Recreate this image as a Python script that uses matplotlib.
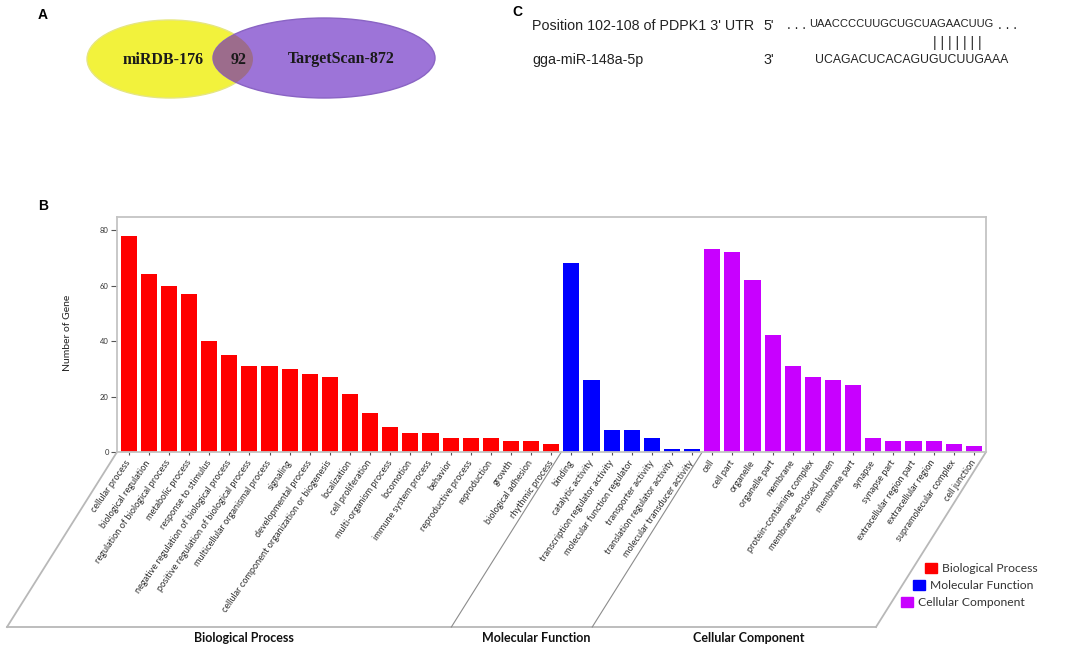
import numpy as np
import matplotlib
matplotlib.use('Agg')
import matplotlib.pyplot as plt
from matplotlib.patches import Ellipse, Rectangle

# GO terms and gene counts (panel B)
bp_terms = ['cellular process', 'biological regulation', 'regulation of biological process',
            'metabolic process', 'response to stimulus', 'negative regulation of biological process',
            'positive regulation of biological process', 'multicellular organismal process',
            'signaling', 'developmental process', 'cellular component organization or biogenesis',
            'localization', 'cell proliferation', 'multi-organism process', 'locomotion',
            'immune system process', 'behavior', 'reproductive process', 'reproduction',
            'growth', 'biological adhesion', 'rhythmic process']
bp_counts = [78, 64, 60, 57, 40, 35, 31, 31, 30, 28, 27, 21, 14, 9, 7, 7, 5, 5, 5, 4, 4, 3]

mf_terms = ['binding', 'catalytic activity', 'transcription regulator activity',
            'molecular function regulator', 'transporter activity',
            'translation regulator activity', 'molecular transducer activity']
mf_counts = [68, 26, 8, 8, 5, 1, 1]

cc_terms = ['cell', 'cell part', 'organelle', 'organelle part', 'membrane',
            'protein-containing complex', 'membrane-enclosed lumen', 'membrane part',
            'synapse', 'synapse part', 'extracellular region part', 'extracellular region',
            'supramolecular complex', 'cell junction']
cc_counts = [73, 72, 62, 42, 31, 27, 26, 24, 5, 4, 4, 4, 3, 2]

groups = ['Biological Process', 'Molecular Function', 'Cellular Component']
group_colors = ['#ff0000', '#0000ff', '#c800ff']
y_ticks = [0, 20, 40, 60, 80]

# panel A / C text
venn_left = 'miRDB-176'
venn_right = 'TargetScan-872'
venn_common = '92'
utr_label = "Position 102-108 of PDPK1 3' UTR"
utr_seq = 'UAACCCCUUGCUGCUAGAACUUG'
mir_label = 'gga-miR-148a-5p'
mir_seq = 'UCAGACUCACAGUGUCUUGAAA'

W, H = 1084, 655
fig = plt.figure(figsize=(W / 100, H / 100), dpi=100)


def fx(x):
    return x / W


def fy(y):
    return 1 - y / H


# ---- panel B ----
terms = bp_terms + mf_terms + cc_terms
counts = bp_counts + mf_counts + cc_counts
sizes = [len(bp_terms), len(mf_terms), len(cc_terms)]
colors = []
for c, n in zip(group_colors, sizes):
    colors += [c] * n
x = np.arange(len(terms))

ax = fig.add_axes([fx(117), fy(452), (986 - 117) / W, (452 - 217) / H])
ax.bar(x, counts, width=0.8, color=colors, linewidth=0)
xmin, xmax = -0.58, 42.6
ymax = 84.7
ax.set_xlim(xmin, xmax)
ax.set_ylim(0, ymax)
for s in ax.spines.values():
    s.set_color('#c4c4c4')
    s.set_linewidth(1.3)
ax.set_yticks(y_ticks)
ax.tick_params(axis='y', length=4, width=0.8, color='#555555', labelsize=5.5,
               labelcolor='#333333', pad=2)
ax.set_xticks(x)
ax.set_xticklabels(terms, rotation=55, ha='right', va='center', rotation_mode='anchor',
                   fontsize=6.6, family='Lato', color='#2e2e2e')
ax.tick_params(axis='x', length=2.5, width=0.8, color='#555555', pad=4)
for lab in ax.get_yticklabels():
    lab.set_family('Lato')
ax.set_ylabel('Number of Gene', fontsize=7.5, family='Lato', color='#222222')
ax.yaxis.set_label_coords((72 - 117) / 869, 0.506)

# slanted floor under the axis
sx = (986 - 117) / (xmax - xmin)
sy = (452 - 217) / ymax
ddx = -110 / sx
ddy = -175 / sy
floor_kw = dict(color='#b8b8b8', lw=1.3, clip_on=False)
ax.plot([xmin, xmin + ddx], [0, ddy], **floor_kw)
ax.plot([xmax, xmax + ddx], [0, ddy], **floor_kw)
ax.plot([xmin + ddx, xmax + ddx], [ddy, ddy], **floor_kw)
edges = [xmin, sizes[0] - 0.5, sizes[0] + sizes[1] - 0.5, xmax]
for e in edges[1:3]:
    ax.plot([e, e + ddx], [0, ddy], color='#8c8c8c', lw=0.8, clip_on=False)
for i, g in enumerate(groups):
    cx = (edges[i] + edges[i + 1]) / 2 + ddx + 0.72
    ax.text(cx, ddy - 3.9, g, ha='center', va='center', fontsize=9,
            fontweight='bold', family='Lato', color='#111111', clip_on=False)

# legend staggered along the slant
for i, (g, c) in enumerate(zip(groups, group_colors)):
    x0 = 925 - 12 * i
    y0 = 563 + 17 * i
    fig.add_artist(Rectangle((fx(x0), fy(y0 + 10)), 12 / W, 10 / H, color=c,
                             transform=fig.transFigure))
    fig.text(fx(x0 + 17), fy(y0 + 5.5), g, fontsize=8.7, family='Lato',
             color='#333333', va='center', ha='left')

# ---- panel A: Venn ----
av = fig.add_axes([0, fy(130), 480 / W, 130 / H])
av.set_xlim(0, 480)
av.set_ylim(130, 0)
av.axis('off')
yel = Ellipse((170, 59), 166, 78, facecolor='#f2f23c', edgecolor='#e6e680', lw=1)
pur = Ellipse((324, 58), 222, 80, facecolor='#9d74d8', edgecolor='#8a64c4', lw=1)
av.add_patch(yel)
av.add_patch(pur)
mid = Ellipse((324, 58), 222, 80, facecolor='#9c6c8c', edgecolor='none')
av.add_patch(mid)
mid.set_clip_path(yel)
serif = dict(family='Liberation Serif', fontweight='bold', fontsize=11.5,
             color='#1a1a1a', ha='center', va='center')
av.text(163, 60, venn_left, **serif)
av.text(239, 60, venn_common, **serif)
av.text(341, 59, venn_right, **serif)

# ---- panel C: binding site ----
sans = dict(family='Liberation Sans', color='#222222', va='center')
fig.text(fx(532), fy(26), utr_label, fontsize=10.3, ha='left', **sans)
fig.text(fx(763), fy(26), "5'", fontsize=10.3, ha='left', **sans)
fig.text(fx(787), fy(25), '. . .', fontsize=10, ha='left', **sans)
fig.text(fx(809), fy(24), utr_seq, fontsize=8, ha='left', **sans)
fig.text(fx(998), fy(25), '. . .', fontsize=10, ha='left', **sans)
fig.text(fx(957), fy(43), '| | | | | | |', fontsize=10, ha='center', **sans)
fig.text(fx(532), fy(60), mir_label, fontsize=10.3, ha='left', **sans)
fig.text(fx(763), fy(60), "3'", fontsize=10.3, ha='left', **sans)
fig.text(fx(815), fy(60), mir_seq, fontsize=8.8, ha='left', **sans)

# panel letters
for lt, (px, py) in zip(['A', 'B', 'C'], [(43, 15), (43, 206), (517, 12)]):
    fig.text(fx(px), fy(py), lt, fontsize=10, fontweight='bold',
             family='Liberation Sans', ha='center', va='center')

fig.savefig('out.png', dpi=100)
